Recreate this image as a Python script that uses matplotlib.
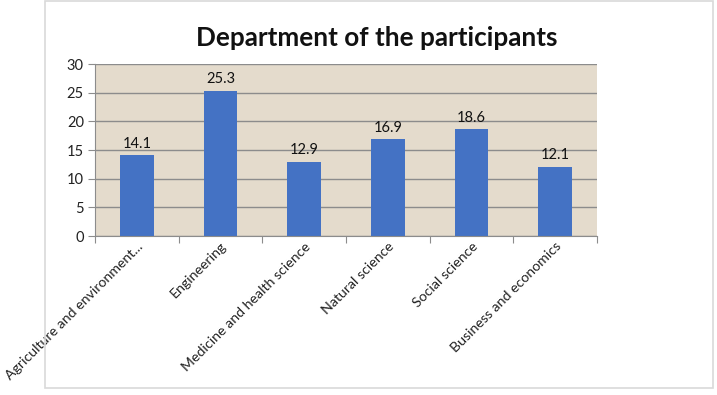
import matplotlib
matplotlib.use("Agg")
import matplotlib.pyplot as plt
from matplotlib.patches import Rectangle

categories = ["Agriculture and environment...", "Engineering", "Medicine and health science",
              "Natural science", "Social science", "Business and economics"]
values = [14.1, 25.3, 12.9, 16.9, 18.6, 12.1]
yticks = [0, 5, 10, 15, 20, 25, 30]

plt.rcParams['font.family'] = ['Lato', 'DejaVu Sans']

fig = plt.figure(figsize=(7.17, 3.95), dpi=100)
fig.patch.set_facecolor('white')
fig.patches.append(Rectangle((45/717, 1 - 388/395), (713-45)/717, (387)/395,
                             transform=fig.transFigure, fill=False,
                             edgecolor='#d9d9d9', linewidth=1.2))

ax = fig.add_axes([95/717, 1 - 236/395, (597-95)/717, (236-64)/395])
ax.set_facecolor('#e4dbcc')
x = list(range(len(categories)))
ax.bar(x, values, width=0.4, color='#4472C4', zorder=3)
for xi, v in zip(x, values):
    ax.text(xi, v + 0.8, f"{v}", ha='center', va='bottom', fontsize=10.5, color='#111111')

ax.set_xlim(-0.5, len(categories) - 0.5)
ax.set_ylim(0, 30)
ax.set_yticks(yticks)
ax.set_yticklabels([str(t) for t in yticks], fontsize=10.5, color='#222222')
ax.grid(axis='y', color='#8c8c8c', linewidth=1, zorder=1)

ax.set_xticks([i + 0.5 for i in range(-1, len(categories))], minor=False)
ax.set_xticklabels([])
ax.set_xticks(x, minor=True)
ax.set_xticklabels(categories, minor=True, rotation=45, ha='right', rotation_mode='anchor',
                   fontsize=10.2, color='#222222')
ax.tick_params(axis='x', which='minor', length=0, pad=3)
ax.tick_params(axis='x', which='major', length=5, color='#8c8c8c')
ax.tick_params(axis='y', length=5, color='#8c8c8c', pad=3)

for s in ['top', 'right']:
    ax.spines[s].set_visible(False)
for s in ['left', 'bottom']:
    ax.spines[s].set_color('#8c8c8c')
    ax.spines[s].set_zorder(4)

fig.text(377/717, 1 - 38/395, "Department of the participants", ha='center', va='center',
         fontsize=18.8, fontweight='bold', color='#111111')

fig.savefig("out.png", dpi=100)
